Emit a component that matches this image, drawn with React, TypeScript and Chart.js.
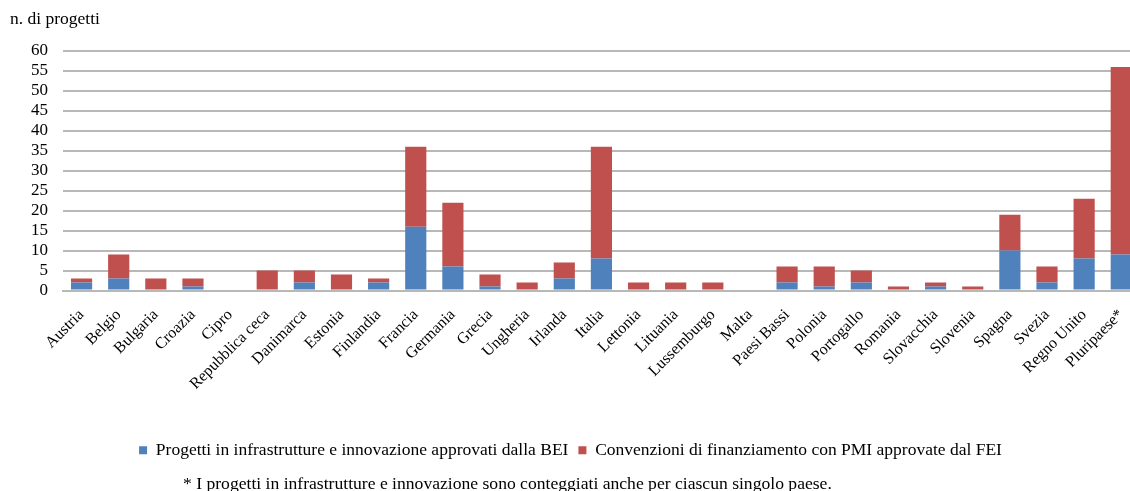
import React, { useEffect, useRef } from "react";
import { Chart, registerables } from "chart.js";

Chart.register(...registerables);

const categories = [
  "Austria", "Belgio", "Bulgaria", "Croazia", "Cipro", "Repubblica ceca", "Danimarca",
  "Estonia", "Finlandia", "Francia", "Germania", "Grecia", "Ungheria", "Irlanda", "Italia",
  "Lettonia", "Lituania", "Lussemburgo", "Malta", "Paesi Bassi", "Polonia", "Portogallo",
  "Romania", "Slovacchia", "Slovenia", "Spagna", "Svezia", "Regno Unito", "Pluripaese*",
];
const beiValues = [2, 3, 0, 1, 0, 0, 2, 0, 2, 16, 6, 1, 0, 3, 8, 0, 0, 0, 0, 2, 1, 2, 0, 1, 0, 10, 2, 8, 9];
const feiValues = [1, 6, 3, 2, 0, 5, 3, 4, 1, 20, 16, 3, 2, 4, 28, 2, 2, 2, 0, 4, 5, 3, 1, 1, 1, 9, 4, 15, 47];
const seriesNames = [
  "Progetti in infrastrutture e innovazione approvati dalla BEI",
  "Convenzioni di finanziamento con PMI approvate dal FEI",
];
const yAxisTitle = "n. di progetti";
const footnote = "* I progetti in infrastrutture e innovazione sono conteggiati anche per ciascun singolo paese.";

const SERIF = "'Liberation Serif', 'Times New Roman', serif";

export default function App() {
  const ref = useRef<HTMLCanvasElement | null>(null);
  useEffect(() => {
    if (!ref.current) return;
    const chart = new Chart(ref.current, {
      type: "bar",
      data: {
        labels: categories,
        datasets: [
          { label: seriesNames[0], data: beiValues, backgroundColor: "#4F81BD", categoryPercentage: 1, barPercentage: 0.57 },
          { label: seriesNames[1], data: feiValues, backgroundColor: "#C0504D", categoryPercentage: 1, barPercentage: 0.57 },
        ],
      },
      options: {
        responsive: false,
        animation: false,
        layout: { padding: { top: 51, right: 9, bottom: 22, left: 0 } },
        plugins: {
          legend: {
            position: "bottom",
            labels: {
              boxWidth: 8,
              boxHeight: 8,
              padding: 10,
              color: "#000",
              font: { family: SERIF, size: 17.5 },
            },
          },
          tooltip: { enabled: false },
        },
        scales: {
          x: {
            stacked: true,
            grid: { display: false, drawTicks: false },
            border: { display: true, color: "#B8B8B8", width: 2 },
            ticks: {
              minRotation: 45,
              maxRotation: 45,
              autoSkip: false,
              color: "#000",
              padding: 15,
              font: { family: SERIF, size: 16 },
            },
            afterFit: (scale: any) => {
              scale.height = 141;
            },
          },
          y: {
            stacked: true,
            min: 0,
            max: 60,
            ticks: {
              stepSize: 5,
              autoSkip: false,
              color: "#000",
              padding: 15,
              font: { family: SERIF, size: 17 },
            },
            grid: { color: "#B8B8B8", lineWidth: 2, drawTicks: false },
            border: { display: false },
            afterFit: (scale: any) => {
              scale.width = 63;
            },
          },
        },
      },
    });
    return () => chart.destroy();
  }, []);

  return (
    <div style={{ position: "fixed", left: 0, top: 0, width: 1130, height: 491, overflow: "hidden", background: "#fff" }}>
      <canvas ref={ref} width={1150} height={491} style={{ position: "absolute", left: 0, top: 0 }} />
      <div style={{ position: "absolute", left: 10, top: 8, fontFamily: SERIF, fontSize: 17.5, lineHeight: "20px", color: "#000" }}>{yAxisTitle}</div>
      <div style={{ position: "absolute", left: 183, top: 473, fontFamily: SERIF, fontSize: 17.6, lineHeight: "20px", color: "#000", whiteSpace: "nowrap" }}>{footnote}</div>
    </div>
  );
}
